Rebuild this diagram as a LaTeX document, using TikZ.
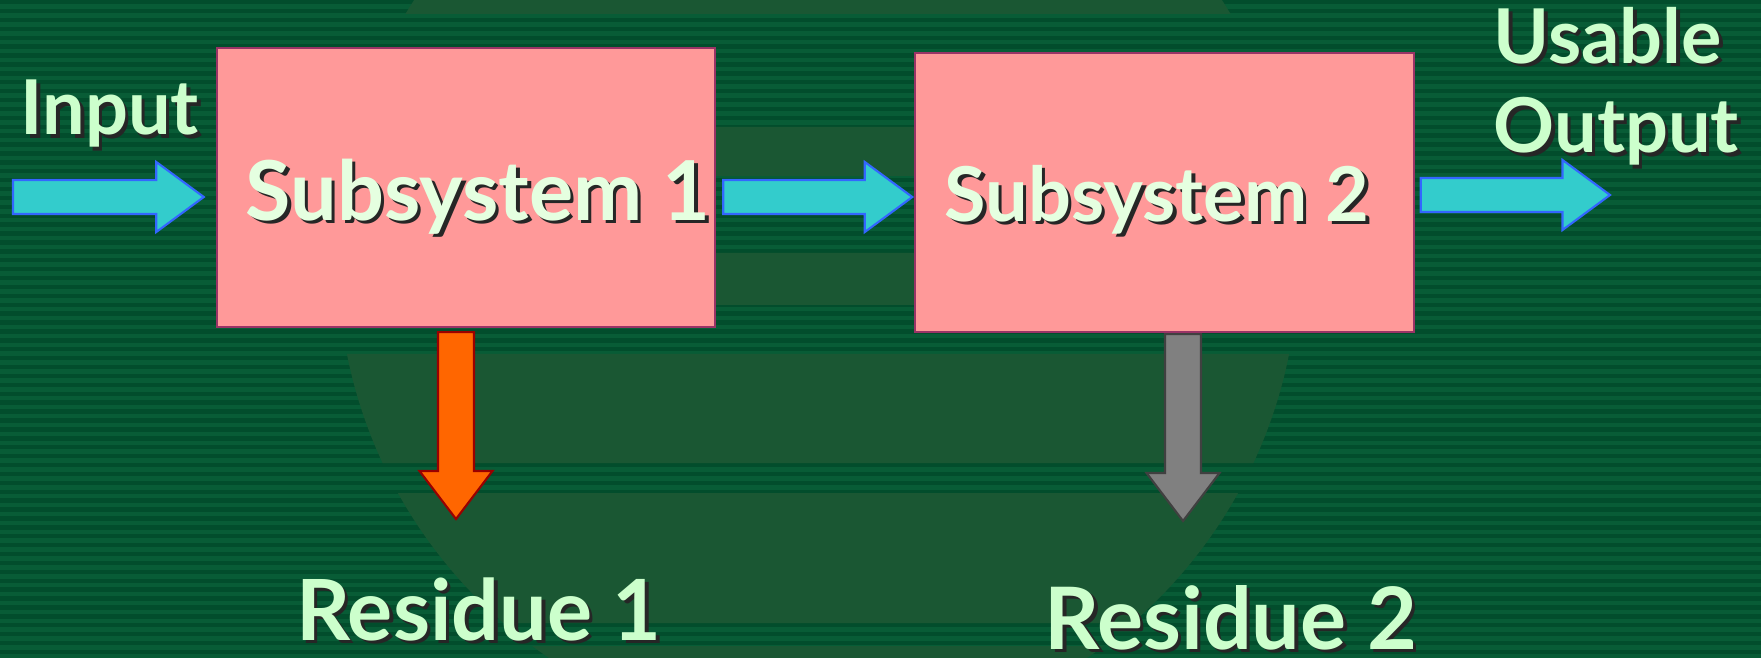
\documentclass[tikz,border=0pt]{standalone}
\usepackage{fontspec}
\setmainfont{Lato}
\usetikzlibrary{calc}
\definecolor{bgbase}{RGB}{8, 92, 54}
\definecolor{bgstripe}{RGB}{2, 77, 44}
\definecolor{globe}{RGB}{26, 87, 51}
\definecolor{boxfill}{RGB}{255, 153, 153}
\definecolor{boxline}{RGB}{153, 51, 102}
\definecolor{flowfill}{RGB}{51, 204, 204}
\definecolor{flowline}{RGB}{51, 102, 255}
\definecolor{waste}{RGB}{255, 102, 0}
\definecolor{wasteline}{RGB}{153, 0, 0}
\definecolor{slag}{RGB}{128, 128, 128}
\definecolor{slagline}{RGB}{64, 64, 64}
\definecolor{lbltext}{RGB}{204, 255, 204}
\definecolor{boxtext}{RGB}{229, 255, 224}
\newcommand{\shd}[1]{\leavevmode\rlap{\kern1pt\raisebox{-1pt}{\color{black!85}#1}}#1}
\tikzset{
    subsys/.style={rectangle, draw=boxline, line width=0.6pt, fill=boxfill, minimum width=4.98cm, minimum height=2.79cm, text=boxtext, text depth=0pt, inner sep=0pt},
    lbl/.style={text=lbltext, font=\bfseries\fontsize{21.5}{25.5}\selectfont, inner sep=0pt},
    reslbl/.style={lbl, font=\bfseries\fontsize{24}{28}\selectfont},
    fatright/.style={to path={let \p1=(\tikztostart), \p2=(\tikztotarget) in
        (\x1,\y1+0.17cm) -- (\x2-0.475cm,\y1+0.17cm) -- (\x2-0.475cm,\y1+0.35cm) -- (\x2,\y1)
        -- (\x2-0.475cm,\y1-0.35cm) -- (\x2-0.475cm,\y1-0.17cm) -- (\x1,\y1-0.17cm) -- cycle}},
    fatdown/.style={to path={let \p1=(\tikztostart), \p2=(\tikztotarget) in
        (\x1-0.18cm,\y1) -- (\x1-0.18cm,\y2+0.48cm) -- (\x1-0.365cm,\y2+0.48cm) -- (\x1,\y2)
        -- (\x1+0.365cm,\y2+0.48cm) -- (\x1+0.18cm,\y2+0.48cm) -- (\x1+0.18cm,\y1) -- cycle}},
    flow/.style={fatright, draw=flowline, fill=flowfill, line width=0.6pt},
    loss/.style={fatdown, line width=0.6pt}
}
\begin{document}
\begin{tikzpicture}[x=0.01cm, y=-0.01cm]
    \useasboundingbox (0,0) rectangle (1761,658);
    \fill[bgbase] (0,0) rectangle (1761,658);
    \foreach \k in {0,...,74}
        \fill[bgstripe] (0,{\k*8.9}) rectangle (1761,{\k*8.9+4.4});
    \begin{scope}
        \clip (0,0) rectangle (1761,14) (0,127) rectangle (1761,176) (0,253) rectangle (1761,305)
              (0,354) rectangle (1761,463) (0,493) rectangle (1761,623) (0,646) rectangle (1761,658);
        \fill[globe] (818,260) circle[radius=4.8cm];
    \end{scope}

    \node[subsys, font=\bfseries\fontsize{23.5}{26}\selectfont, text height=0.65cm] (sub1) at (466,187.5) {\hspace*{0.24cm}\shd{Subsystem 1}};
    \node[subsys, font=\bfseries\fontsize{21.5}{25}\selectfont, text height=0.57cm] (sub2) at (1164.5,192.5) {\hspace*{-0.15cm}\shd{Subsystem 2}};

    \node[lbl, anchor=base west] (input) at (20,135) {\shd{Input}};
    \node[lbl, anchor=base west, align=left] (output) at (1493,153) {\shd{Usable}\\\shd{Output}};
    \node[reslbl, anchor=base] (res1) at (479,640) {\shd{Residue 1}};
    \node[reslbl, font=\bfseries\fontsize{24.5}{28}\selectfont, anchor=base] (res2) at (1231,649) {\shd{Residue 2}};

    \coordinate (inS) at (13,197);
    \coordinate (outE) at (1610,195);
    \coordinate (r1tip) at (456,519);
    \coordinate (r2tip) at (1183,521);

    \draw[flow] (inS) to ([xshift=-0.12cm]sub1.west);
    \draw[flow] ([xshift=0.07cm, yshift=-0.095cm]sub1.east) to ([xshift=-0.02cm]sub2.west);
    \draw[flow] ([xshift=0.06cm, yshift=-0.025cm]sub2.east) to (outE);
    \draw[loss, draw=wasteline, fill=waste] ([xshift=-0.1cm, yshift=-0.04cm]sub1.south) to (r1tip);
    \draw[loss, draw=slagline, fill=slag] ([xshift=0.185cm, yshift=-0.01cm]sub2.south) to (r2tip);
\end{tikzpicture}
\end{document}
